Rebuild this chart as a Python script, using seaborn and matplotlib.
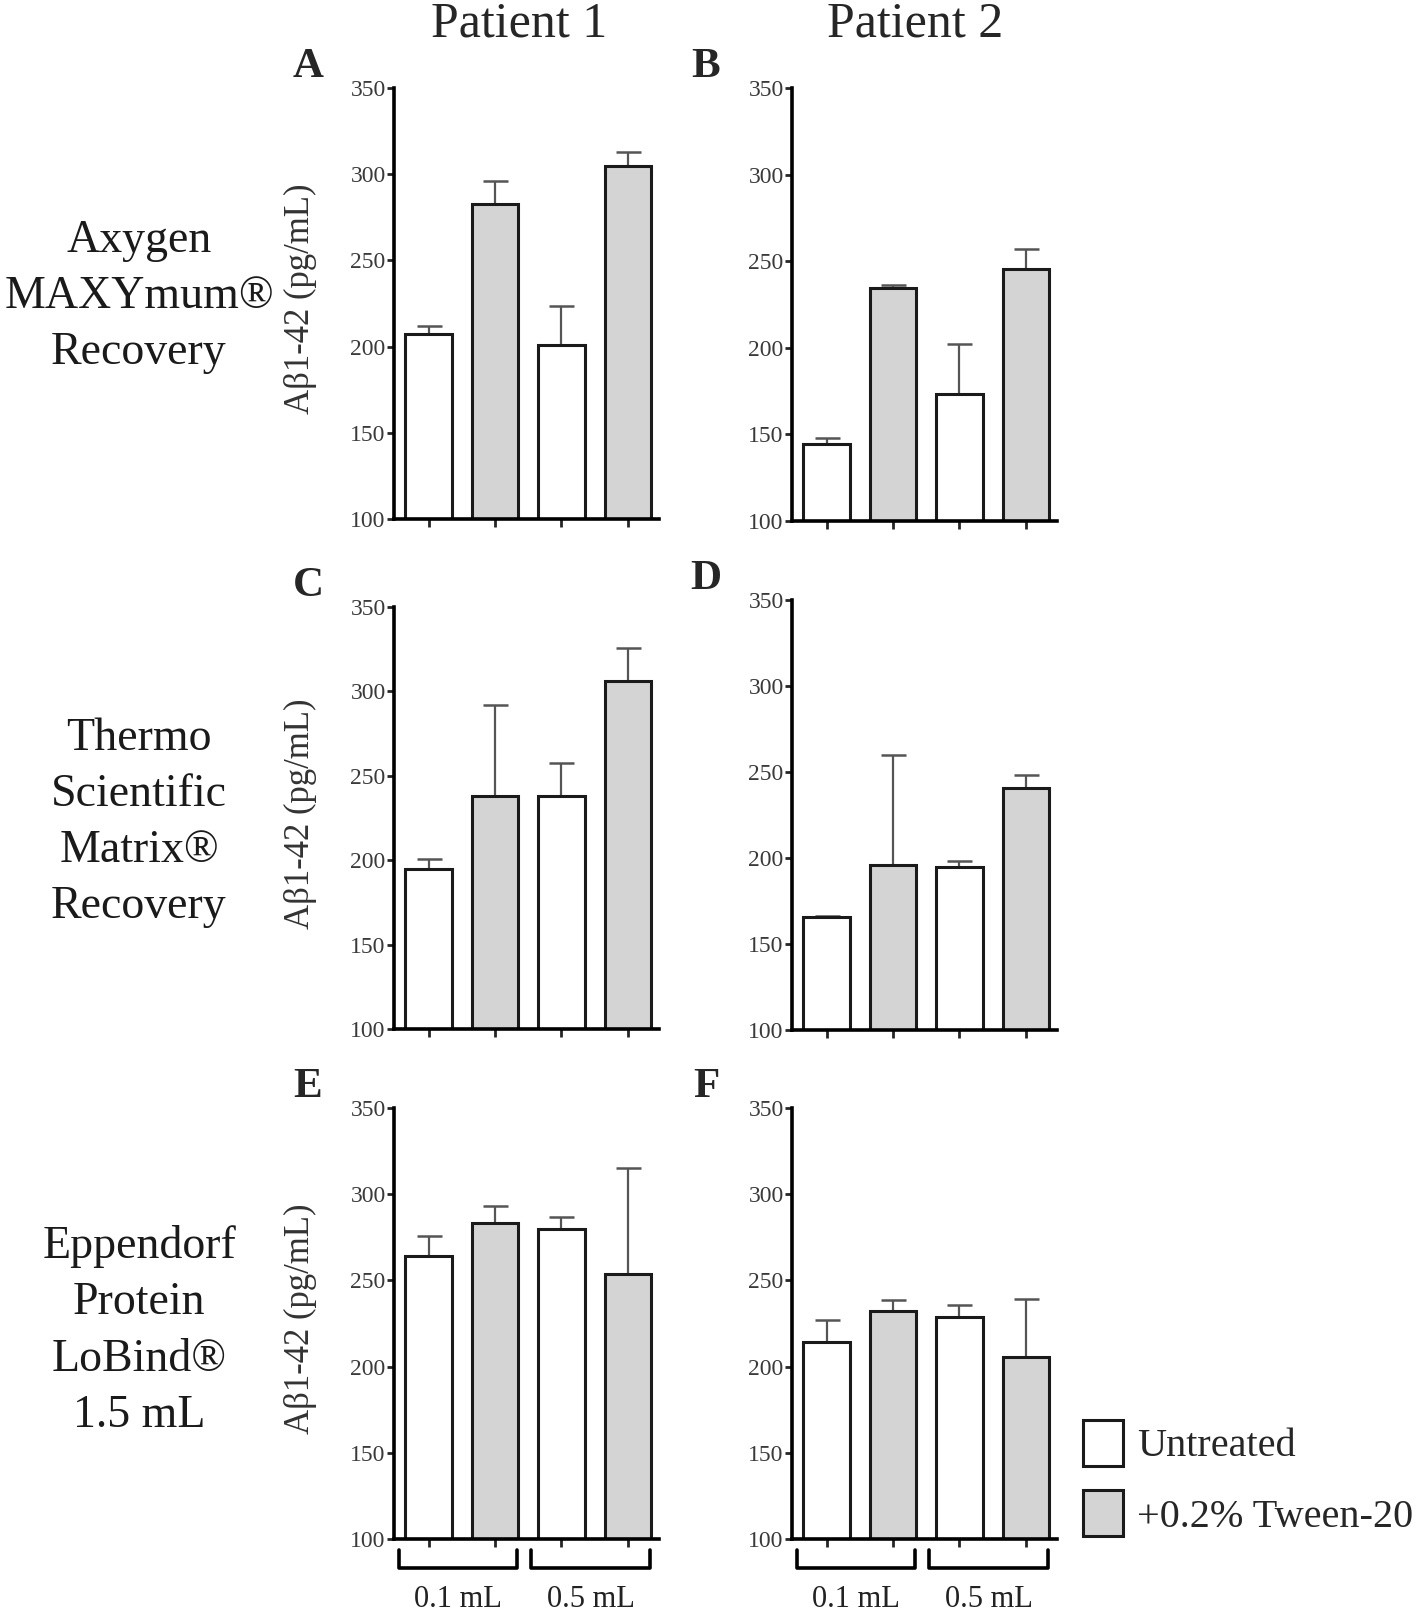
import numpy as np
import pandas as pd
import seaborn as sns
import matplotlib
matplotlib.use("Agg")
import matplotlib.pyplot as plt
from matplotlib.patches import Patch

# bar order inside every panel
bar_ids = ["U 0.1", "T 0.1", "U 0.5", "T 0.5"]
bar_treatment = ["Untreated", "+0.2% Tween-20", "Untreated", "+0.2% Tween-20"]
volume_labels = ["0.1 mL", "0.5 mL"]
patients = ["Patient 1", "Patient 2"]
tubes = ["Axygen\nMAXYmum®\nRecovery",
         "Thermo\nScientific\nMatrix®\nRecovery",
         "Eppendorf\nProtein\nLoBind®\n1.5 mL"]
panel_letters = ["A", "B", "C", "D", "E", "F"]
y_ticks = [100, 150, 200, 250, 300, 350]

# mean and SD (pg/mL)
axygen_p1 = [207.5, 283, 201, 304.5]
axygen_p1_sd = [4.5, 13, 22.5, 8.5]
axygen_p2 = [144.5, 234.5, 173.5, 245.5]
axygen_p2_sd = [3.5, 1.5, 28.5, 11.5]
thermo_p1 = [195, 238, 238, 306]
thermo_p1_sd = [5.5, 54, 19.5, 20]
thermo_p2 = [165.5, 196, 195, 240.5]
thermo_p2_sd = [0.5, 64, 3.5, 8]
eppendorf_p1 = [264, 283.5, 280, 254]
eppendorf_p1_sd = [12, 9.5, 6.5, 61]
eppendorf_p2 = [214, 232, 229, 205.5]
eppendorf_p2_sd = [13, 6.5, 6.5, 33.5]

panels = [
    (axygen_p1, axygen_p1_sd), (axygen_p2, axygen_p2_sd),
    (thermo_p1, thermo_p1_sd), (thermo_p2, thermo_p2_sd),
    (eppendorf_p1, eppendorf_p1_sd), (eppendorf_p2, eppendorf_p2_sd),
]

colors = {"Untreated": "white", "+0.2% Tween-20": "#d4d4d4"}

sns.set_style("ticks")
plt.rcParams["font.family"] = ["Liberation Serif", "DejaVu Serif"]

W, H = 1418, 1612
fig = plt.figure(figsize=(W / 100, H / 100), dpi=100)

# pixel boxes: (left, top, bottom)
boxes = [(394, 88, 519), (792, 88, 521),
         (394, 607, 1029), (792, 600, 1030),
         (394, 1108, 1539), (792, 1108, 1539)]
ax_w = 265

axes = []
for i, ((vals, sds), (left, top, bottom)) in enumerate(zip(panels, boxes)):
    ax = fig.add_axes([left / W, 1 - bottom / H, ax_w / W, (bottom - top) / H])
    df = pd.DataFrame({"bar": bar_ids, "treatment": bar_treatment, "value": vals})
    ax.errorbar(np.arange(4), vals, yerr=[np.zeros(4), sds], fmt="none",
                ecolor="#555555", elinewidth=1.6, capsize=9, capthick=1.8, zorder=0.9)
    sns.barplot(data=df, x="bar", y="value", hue="treatment", order=bar_ids,
                palette=colors, dodge=False, width=0.7, edgecolor="#1a1a1a",
                linewidth=2.2, legend=False, ax=ax)
    ax.set_xlim(-0.52, 3.47)
    ax.set_ylim(100, 350)
    ax.set_yticks(y_ticks)
    ax.set_xticks(range(4))
    ax.set_xticklabels([])
    ax.set_xlabel("")
    sns.despine(ax=ax)
    for s in ["left", "bottom"]:
        ax.spines[s].set_linewidth(2.6)
        ax.spines[s].set_color("black")
    ax.tick_params(axis="y", length=5, width=2, pad=1, labelsize=17, labelcolor="#3a3a3a")
    ax.tick_params(axis="x", length=6, width=2)
    if i % 2 == 0:
        ax.set_ylabel("Aβ1-42 (pg/mL)", fontsize=25, color="#333333")
        ax.yaxis.set_label_coords(-0.29, 0.51)
    else:
        ax.set_ylabel("")
    fig.text((left - 86) / W, 1 - (top - 21) / H, panel_letters[i],
             fontsize=31, fontweight="bold", ha="center", va="center")
    axes.append(ax)

# volume brackets under the bottom row
for ax in axes[4:]:
    trans = ax.get_xaxis_transform()
    for (x0, x1), lab in zip([(-0.45, 1.33), (1.55, 3.33)], volume_labels):
        ax.plot([x0, x0, x1, x1], [-0.025, -0.068, -0.068, -0.025], transform=trans,
                clip_on=False, color="black", lw=2.6, solid_joinstyle="round")
        ax.text((x0 + x1) / 2, -0.14, lab, transform=trans, ha="center", va="center",
                fontsize=22, color="#222222")

# column and row titles
for x, p in zip([519, 915], patients):
    fig.text(x / W, 1 - 24 / H, p, fontsize=36, ha="center", va="center")
for y, t in zip([297, 823, 1331], tubes):
    fig.text(139 / W, 1 - y / H, t, fontsize=33, ha="center", va="center",
             multialignment="center", linespacing=1.42, color="#1a1a1a")

handles = [Patch(facecolor=colors[k], edgecolor="#1a1a1a", linewidth=2.2)
           for k in ["Untreated", "+0.2% Tween-20"]]
fig.legend(handles, ["Untreated", "+0.2% Tween-20"], loc="upper left",
           bbox_to_anchor=(1083 / W, 1 - 1420 / H), frameon=False, fontsize=29,
           handlelength=1.0, handleheight=1.38, handletextpad=0.35,
           labelspacing=0.6, borderpad=0, borderaxespad=0)

fig.savefig("out.png", dpi=100)
